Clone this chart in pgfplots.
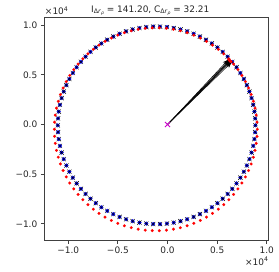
\documentclass[border=0pt]{standalone}
\usepackage{pgfplots}
\pgfplotsset{compat=1.18}
\usepackage{pgfplotstable}
\usepackage{fontspec}
\setmainfont{DejaVu Sans}
\usetikzlibrary{arrows.meta}

\pgfplotstableread{
x y
8850 -80
8826 614
8753 1305
8633 1989
8465 2663
8250 3323
7990 3967
7685 4591
7338 5193
6950 5769
6522 6316
6057 6832
5558 7314
5026 7761
4464 8169
3875 8537
3262 8863
2627 9145
1975 9383
1307 9575
628 9719
-60 9815
-753 9864
-1447 9864
-2140 9815
-2828 9719
-3507 9575
-4175 9383
-4827 9145
-5462 8863
-6075 8537
-6664 8169
-7226 7761
-7758 7314
-8257 6832
-8722 6316
-9150 5769
-9538 5193
-9885 4591
-10190 3967
-10450 3323
-10665 2663
-10833 1989
-10953 1305
-11026 614
-11050 -80
-11026 -774
-10953 -1465
-10833 -2149
-10665 -2823
-10450 -3483
-10190 -4127
-9885 -4751
-9538 -5353
-9150 -5929
-8722 -6476
-8257 -6992
-7758 -7474
-7226 -7921
-6664 -8329
-6075 -8697
-5462 -9023
-4827 -9305
-4175 -9543
-3507 -9735
-2828 -9879
-2140 -9975
-1447 -10024
-753 -10024
-60 -9975
628 -9879
1307 -9735
1975 -9543
2627 -9305
3262 -9023
3875 -8697
4464 -8329
5026 -7921
5558 -7474
6057 -6992
6522 -6476
6950 -5929
7338 -5353
7685 -4751
7990 -4127
8250 -3483
8465 -2823
8633 -2149
8753 -1465
8826 -774
}\bluedata

\pgfplotstableread{
x y
9040 -475
9015 238
8940 947
8817 1650
8644 2342
8424 3020
8157 3682
7844 4323
7487 4941
7088 5532
6649 6094
6172 6624
5659 7120
5112 7578
4535 7998
3930 8376
3300 8711
2649 9001
1978 9245
1292 9441
595 9590
-112 9689
-823 9739
-1537 9739
-2248 9689
-2955 9590
-3652 9441
-4338 9245
-5009 9001
-5660 8711
-6290 8376
-6895 7998
-7472 7578
-8019 7120
-8532 6624
-9009 6094
-9448 5532
-9847 4941
-10204 4323
-10517 3682
-10784 3020
-11004 2342
-11177 1650
-11300 947
-11375 238
-11400 -475
-11375 -1188
-11300 -1897
-11177 -2600
-11004 -3292
-10784 -3970
-10517 -4632
-10204 -5273
-9847 -5891
-9448 -6482
-9009 -7044
-8532 -7574
-8019 -8070
-7472 -8528
-6895 -8948
-6290 -9326
-5660 -9661
-5009 -9951
-4338 -10195
-3652 -10391
-2955 -10540
-2248 -10639
-1537 -10689
-823 -10689
-112 -10639
595 -10540
1292 -10391
1978 -10195
2649 -9951
3300 -9661
3930 -9326
4535 -8948
5112 -8528
5659 -8070
6172 -7574
6649 -7044
7088 -6482
7487 -5891
7844 -5273
8157 -4632
8424 -3970
8644 -3292
8817 -2600
8940 -1897
9015 -1188
6150 6550
6280 6450
6400 6330
6300 6380
}\reddata

\pgfplotstableread{
x y u v
0 0 6150 6550
0 0 6250 6470
0 0 6350 6380
0 0 6450 6280
0 0 6300 6420
}\arrowdata

\begin{document}
\begin{tikzpicture}
\path[use as bounding box] (-44.3bp,-31.7bp) rectangle (234.7bp,240.3bp);
\begin{axis}[
  at={(0,0)}, anchor=south west,
  scale only axis, width=224bp, height=222.8bp,
  xmin=-12410, xmax=10150, ymin=-11660, ymax=10780,
  axis line style={black!75, line width=0.8bp},
  tick style={black!75, line width=0.8bp},
  tick align=outside, major tick length=3.5bp,
  xtick pos=bottom, ytick pos=left,
  scaled ticks=false,
  xtick={-10000,-5000,0,5000,10000},
  xticklabels={−1.0,−0.5,0.0,0.5,1.0},
  ytick={-10000,-5000,0,5000,10000},
  yticklabels={−1.0,−0.5,0.0,0.5,1.0},
  tick label style={font=\fontsize{9}{10}\selectfont, text=black!85},
  clip=true,
]
\addplot[only marks, mark=*, mark size=1.95bp, mark options={fill=blue, draw=blue, line width=0.1bp}] table[x=x,y=y]{\bluedata};
\addplot[only marks, mark=x, mark size=3.0bp, mark options={draw=black, line width=0.45bp}] table[x=x,y=y]{\bluedata};
\addplot[only marks, mark=*, mark size=1.45bp, mark options={fill=red, draw=red, line width=0.1bp}] table[x=x,y=y]{\reddata};
\addplot[black, line width=0.6bp, quiver={u=\thisrow{u}, v=\thisrow{v}}, -{Stealth[length=6bp,width=4.5bp]}] table[x=x,y=y]{\arrowdata};
\addplot[only marks, mark=x, mark size=3.6bp, mark options={draw={rgb,255:red,204;green,0;blue,204}, line width=0.8bp}] coordinates {(0,0)};
\end{axis}
\node[anchor=base, inner sep=0pt, font=\fontsize{9}{10}\selectfont, text=black!85] at (106bp,228bp)
  {I\raisebox{-1.6bp}{\fontsize{6.3}{7}\selectfont Δ\textit{r}\raisebox{-1bp}{\fontsize{4.5}{5}\selectfont\textit{ρ}}} = 141.20, C\raisebox{-1.6bp}{\fontsize{6.3}{7}\selectfont Δ\textit{r}\raisebox{-1bp}{\fontsize{4.5}{5}\selectfont\textit{ρ}}} = 32.21};
\node[anchor=base west, inner sep=0pt, font=\fontsize{9}{10}\selectfont, text=black!85] at (0.5bp,225.3bp) {×10\raisebox{3.5bp}{\fontsize{6.3}{7}\selectfont 4}};
\node[anchor=base east, inner sep=0pt, font=\fontsize{9}{10}\selectfont, text=black!85] at (224bp,-24.7bp) {×10\raisebox{3.5bp}{\fontsize{6.3}{7}\selectfont 4}};
\end{tikzpicture}
\end{document}
